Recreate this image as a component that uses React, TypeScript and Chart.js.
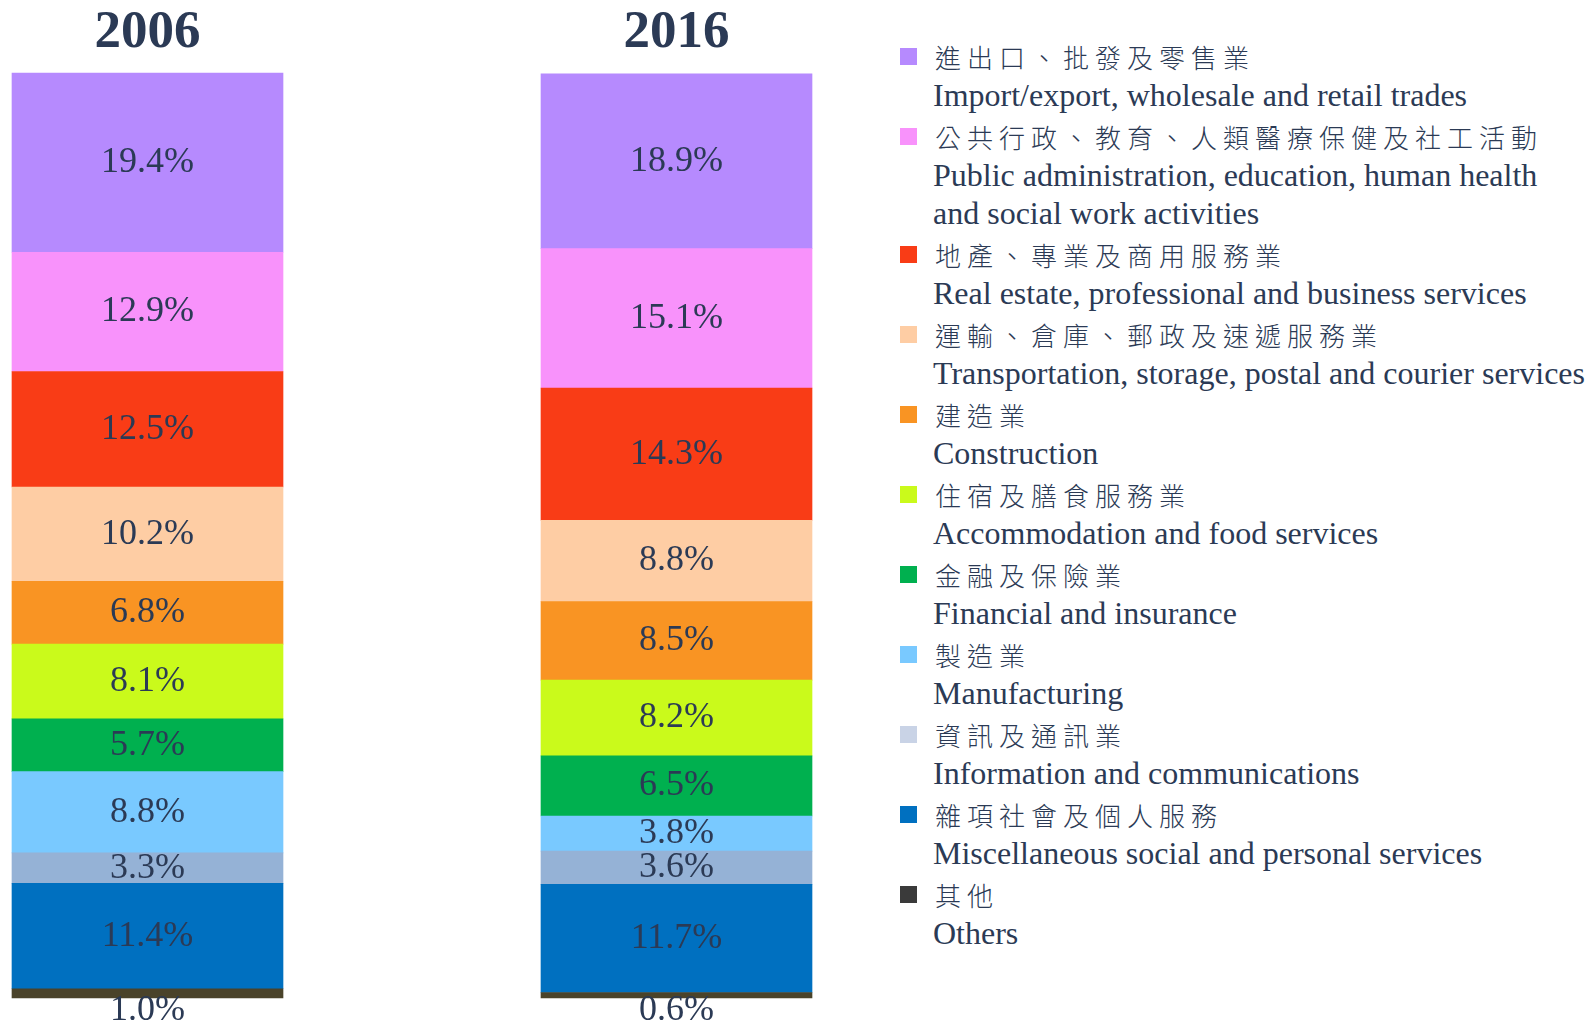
import React, { useEffect, useRef } from "react";
import { Chart, registerables } from "chart.js";

Chart.register(...registerables);

// ---- data (top of stack first) ----
const years = ["2006", "2016"];

const industriesZh = [
  "進出口、批發及零售業",
  "公共行政、教育、人類醫療保健及社工活動",
  "地產、專業及商用服務業",
  "運輸、倉庫、郵政及速遞服務業",
  "建造業",
  "住宿及膳食服務業",
  "金融及保險業",
  "製造業",
  "資訊及通訊業",
  "雜項社會及個人服務",
  "其他",
];

const industriesEn = [
  ["Import/export, wholesale and retail trades"],
  ["Public administration, education, human health", "and social work activities"],
  ["Real estate, professional and business services"],
  ["Transportation, storage, postal and courier services"],
  ["Construction"],
  ["Accommodation and food services"],
  ["Financial and insurance"],
  ["Manufacturing"],
  ["Information and communications"],
  ["Miscellaneous social and personal services"],
  ["Others"],
];

const values2006 = [19.4, 12.9, 12.5, 10.2, 6.8, 8.1, 5.7, 8.8, 3.3, 11.4, 1.0];
const values2016 = [18.9, 15.1, 14.3, 8.8, 8.5, 8.2, 6.5, 3.8, 3.6, 11.7, 0.6];

const barColors = [
  "#B68AFE",
  "#F892FB",
  "#F93C16",
  "#FECDA4",
  "#F99423",
  "#CAFA1B",
  "#00B04F",
  "#79C9FF",
  "#95B2D6",
  "#0070C0",
  "#4A432A",
];

const legendColors = [
  "#B68AFE",
  "#F892FB",
  "#F93C16",
  "#FECDA4",
  "#F99423",
  "#CAFA1B",
  "#00B04F",
  "#79C9FF",
  "#C9D3E6",
  "#0070C0",
  "#3A3A3A",
];

const TEXT = "#2B3A55";
const CANVAS_W = 860;
const CANVAS_H = 1024;

const labelPlugin = {
  id: "segLabels",
  afterDatasetsDraw(chart: any) {
    const ctx = chart.ctx;
    ctx.save();
    ctx.font = '36px "Liberation Serif", "Times New Roman", serif';
    ctx.fillStyle = TEXT;
    ctx.textAlign = "center";
    ctx.textBaseline = "middle";
    chart.data.datasets.forEach((ds: any, di: number) => {
      const meta = chart.getDatasetMeta(di);
      meta.data.forEach((el: any, i: number) => {
        const v = ds.data[i];
        const top = Math.min(el.y, el.base);
        const bottom = Math.max(el.y, el.base);
        const h = bottom - top;
        const y = h < 20 ? bottom + 13 : (top + bottom) / 2;
        ctx.fillText(v.toFixed(1) + "%", el.x, y);
      });
    });
    ctx.restore();
  },
};

export default function App() {
  const ref = useRef<HTMLCanvasElement | null>(null);

  useEffect(() => {
    if (!ref.current) return;
    const n = industriesZh.length;
    const datasets = [];
    for (let k = n - 1; k >= 0; k--) {
      datasets.push({
        label: industriesZh[k],
        data: [values2006[k], values2016[k]],
        backgroundColor: barColors[k],
        borderWidth: 0,
        barThickness: 271,
        clip: false,
      });
    }
    const chart = new Chart(ref.current, {
      type: "bar",
      data: { labels: years, datasets },
      options: {
        responsive: false,
        animation: false,
        layout: { padding: { left: 147.5, right: CANVAS_W - 676.5, top: 0, bottom: 26 } },
        plugins: { legend: { display: false }, tooltip: { enabled: false } },
        scales: {
          x: {
            type: "category",
            position: "top",
            stacked: true,
            offset: false,
            grid: { display: false, drawTicks: false },
            border: { display: false },
            ticks: {
              autoSkip: false,
              maxRotation: 0,
              padding: 8,
              color: TEXT,
              font: { family: '"Liberation Serif", "Times New Roman", serif', size: 53, weight: "bold" },
            },
            afterFit: (scale: any) => {
              scale.height = 73;
            },
          },
          y: {
            stacked: true,
            display: false,
            min: 0,
            max: 100.1,
          },
        },
      },
      plugins: [labelPlugin],
    } as any);
    return () => chart.destroy();
  }, []);

  return (
    <div
      style={{
        position: "absolute",
        left: 0,
        top: 0,
        width: 1589,
        height: 1024,
        background: "#fff",
        overflow: "hidden",
      }}
    >
      <canvas
        ref={ref}
        width={CANVAS_W}
        height={CANVAS_H}
        style={{ position: "absolute", left: 0, top: 0, width: CANVAS_W, height: CANVAS_H }}
      />
      <div style={{ position: "absolute", left: 900, top: 38, color: TEXT }}>
        {industriesZh.map((zh, i) => (
          <div key={i} style={{ display: "flex", alignItems: "flex-start", marginBottom: 4 }}>
            <div
              style={{
                width: 17,
                height: 17,
                marginTop: 10,
                background: legendColors[i],
                flex: "0 0 auto",
              }}
            />
            <div style={{ marginLeft: 18 }}>
              <div
                style={{
                  fontFamily: '"Noto Sans CJK TC", sans-serif',
                  fontSize: 26,
                  letterSpacing: 6,
                  lineHeight: "38px",
                  whiteSpace: "nowrap",
                  fontWeight: 300,
                }}
              >
                {zh}
              </div>
              {industriesEn[i].map((line, j) => (
                <div
                  key={j}
                  style={{
                    fontFamily: '"Liberation Serif", "Times New Roman", serif',
                    fontSize: 32,
                    lineHeight: "38px",
                    whiteSpace: "nowrap",
                    marginLeft: -2,
                  }}
                >
                  {line}
                </div>
              ))}
            </div>
          </div>
        ))}
      </div>
    </div>
  );
}
